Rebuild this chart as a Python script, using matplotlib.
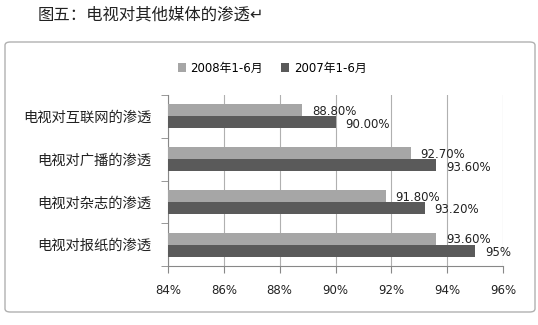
import numpy as np
import matplotlib
matplotlib.use('Agg')
import matplotlib.pyplot as plt
from matplotlib.patches import FancyBboxPatch

plt.rcParams['font.family'] = ['DejaVu Sans', 'Noto Sans CJK SC']

# data
# ----
categories = ['电视对互联网的渗透', '电视对广播的渗透', '电视对杂志的渗透', '电视对报纸的渗透']
series_names = ['2008年1-6月', '2007年1-6月']
values_2008 = [88.8, 92.7, 91.8, 93.6]
values_2007 = [90.0, 93.6, 93.2, 95.0]
labels_2008 = ['88.80%', '92.70%', '91.80%', '93.60%']
labels_2007 = ['90.00%', '93.60%', '93.20%', '95%']
xticks = [84, 86, 88, 90, 92, 94, 96]

fig = plt.figure(figsize=(5.38, 3.25), dpi=100)

# outer chart frame
frame = FancyBboxPatch((5 / 538, 13 / 325), 530 / 538, 270 / 325,
                       boxstyle='round,pad=0,rounding_size=0.01',
                       transform=fig.transFigure, facecolor='none',
                       edgecolor='#b0b0b0', linewidth=1.0, zorder=0)
fig.patches.append(frame)

fig.text(38 / 538, 1 - 15 / 325, '图五：电视对其他媒体的渗透↵', fontsize=11.8,
         va='center', ha='left', color='#222222', family=['Noto Sans CJK SC', 'DejaVu Sans'])

ax = fig.add_axes([168 / 538, 1 - 266 / 325, 335 / 538, 171 / 325])
ax.patch.set_alpha(0)

y = np.arange(len(categories))
h = 0.28
c_light = '#a6a6a6'
c_dark = '#5a5a5a'
b1 = ax.barh(y - h / 2, values_2008, height=h, color=c_light, label=series_names[0], zorder=3)
b2 = ax.barh(y + h / 2, values_2007, height=h, color=c_dark, label=series_names[1], zorder=3)

for i in range(len(categories)):
    ax.text(values_2008[i] + 0.35, y[i] - h / 2 + 0.03, labels_2008[i], va='center', ha='left',
            fontsize=8.5, color='#222222')
    ax.text(values_2007[i] + 0.35, y[i] + h / 2 + 0.05, labels_2007[i], va='center', ha='left',
            fontsize=8.5, color='#222222')

ax.set_xlim(84, 96)
ax.set_ylim(len(categories) - 0.5, -0.5)
ax.set_xticks(xticks)
ax.set_xticklabels([str(t) + '%' for t in xticks], fontsize=8.5, color='#222222')
ax.set_yticks(y)
ax.set_yticklabels(categories, fontsize=10.3, color='#222222',
                   family=['Noto Sans CJK SC', 'DejaVu Sans'])
ax.tick_params(axis='y', length=0, pad=12)
ax.set_yticks(np.arange(-0.5, len(categories)), minor=True)
ax.tick_params(axis='y', which='minor', length=5, color='#888888')
ax.tick_params(axis='x', length=5, color='#888888', pad=8)
ax.grid(axis='x', color='#b0b0b0', linewidth=0.8, zorder=0)
for s in ['top', 'right']:
    ax.spines[s].set_visible(False)
ax.spines['left'].set_color('#888888')
ax.spines['bottom'].set_color('#888888')

fig.legend(handles=[b1, b2], loc='center', bbox_to_anchor=(272 / 538, 1 - 68 / 325),
           ncol=2, frameon=False, fontsize=8.5, handlelength=0.7, handleheight=0.7,
           columnspacing=1.5, handletextpad=0.4)

fig.savefig('out.png', dpi=100)
